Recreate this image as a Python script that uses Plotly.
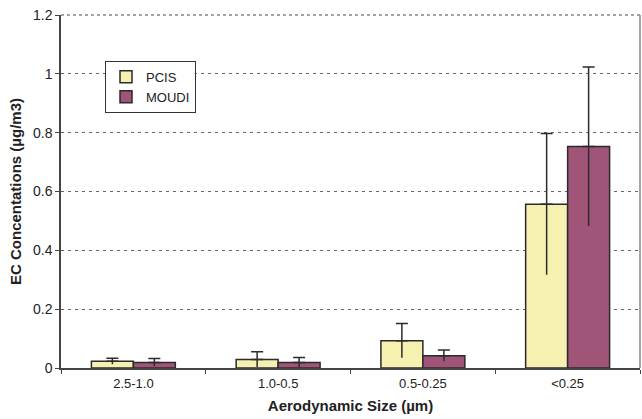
import plotly.graph_objects as go

categories = ["2.5-1.0", "1.0-0.5", "0.5-0.25", "<0.25"]
pcis = [0.023, 0.029, 0.093, 0.557]
pcis_err = [0.010, 0.026, 0.058, 0.240]
moudi = [0.019, 0.019, 0.042, 0.753]
moudi_err = [0.013, 0.017, 0.019, 0.270]

series = [
    ("PCIS", pcis, pcis_err, "#F6F1B0", "a"),
    ("MOUDI", moudi, moudi_err, "#A05478", "b"),
]

fig = go.Figure()
for name, vals, err, color, grp in series:
    fig.add_trace(go.Bar(
        name=name, x=categories, y=vals, offsetgroup=grp,
        marker=dict(color=color, line=dict(color="#2b2b2b", width=1.5)),
        error_y=dict(type="data", symmetric=False, array=err,
                     arrayminus=[0] * len(err), color="#2b2b2b",
                     thickness=1.5, width=6),
    ))
for name, vals, err, color, grp in series:
    fig.add_trace(go.Bar(
        name=name + " low", x=categories, y=vals, offsetgroup=grp,
        showlegend=False, hoverinfo="skip",
        marker=dict(color="rgba(0,0,0,0)", line=dict(width=0)),
        error_y=dict(type="data", symmetric=False, array=[0] * len(err),
                     arrayminus=err, color="#2b2b2b", thickness=1.5, width=0),
    ))

font = "Liberation Sans, Arial, sans-serif"
fig.update_layout(
    width=642, height=419,
    margin=dict(l=61, r=2, t=15, b=51),
    paper_bgcolor="white", plot_bgcolor="white",
    barmode="group", bargap=0.42, bargroupgap=0,
    font=dict(family=font, size=13, color="#222"),
    showlegend=True,
    legend=dict(x=0.076, y=0.87, xanchor="left", yanchor="top",
                bgcolor="white", bordercolor="#333", borderwidth=1,
                font=dict(size=13, color="#222"), tracegroupgap=0,
                itemwidth=30),
    xaxis=dict(
        type="category", tickson="boundaries", ticks="outside", ticklen=4,
        tickcolor="#444", showline=True, linecolor="#444", linewidth=1.5,
        showgrid=False, ticklabelstandoff=3,
        title=dict(text="<b>Aerodynamic Size (\u00b5m)</b>", standoff=10,
                   font=dict(size=15)),
        tickfont=dict(size=13),
    ),
    yaxis=dict(
        range=[0, 1.2], tickvals=[0, 0.2, 0.4, 0.6, 0.8, 1, 1.2],
        ticktext=["0", "0.2", "0.4", "0.6", "0.8", "1", "1.2"],
        ticks="outside", ticklen=4, tickcolor="#444",
        showline=True, linecolor="#444", linewidth=1.5,
        showgrid=True, gridcolor="#666", griddash="3px,4px", gridwidth=1,
        zeroline=False,
        title=dict(text="<b>EC Concentations (\u00b5g/m3)</b>", standoff=8,
                   font=dict(size=15)),
        tickfont=dict(size=14),
    ),
    shapes=[
        dict(type="line", xref="paper", yref="paper", x0=1, x1=1, y0=0, y1=1,
             line=dict(color="#888", width=1.5)),
        dict(type="line", xref="paper", yref="paper", x0=0, x1=1, y0=1, y1=1,
             line=dict(color="#888", width=1.5, dash="3px,3px")),
    ],
)

fig.write_html("out.html")
